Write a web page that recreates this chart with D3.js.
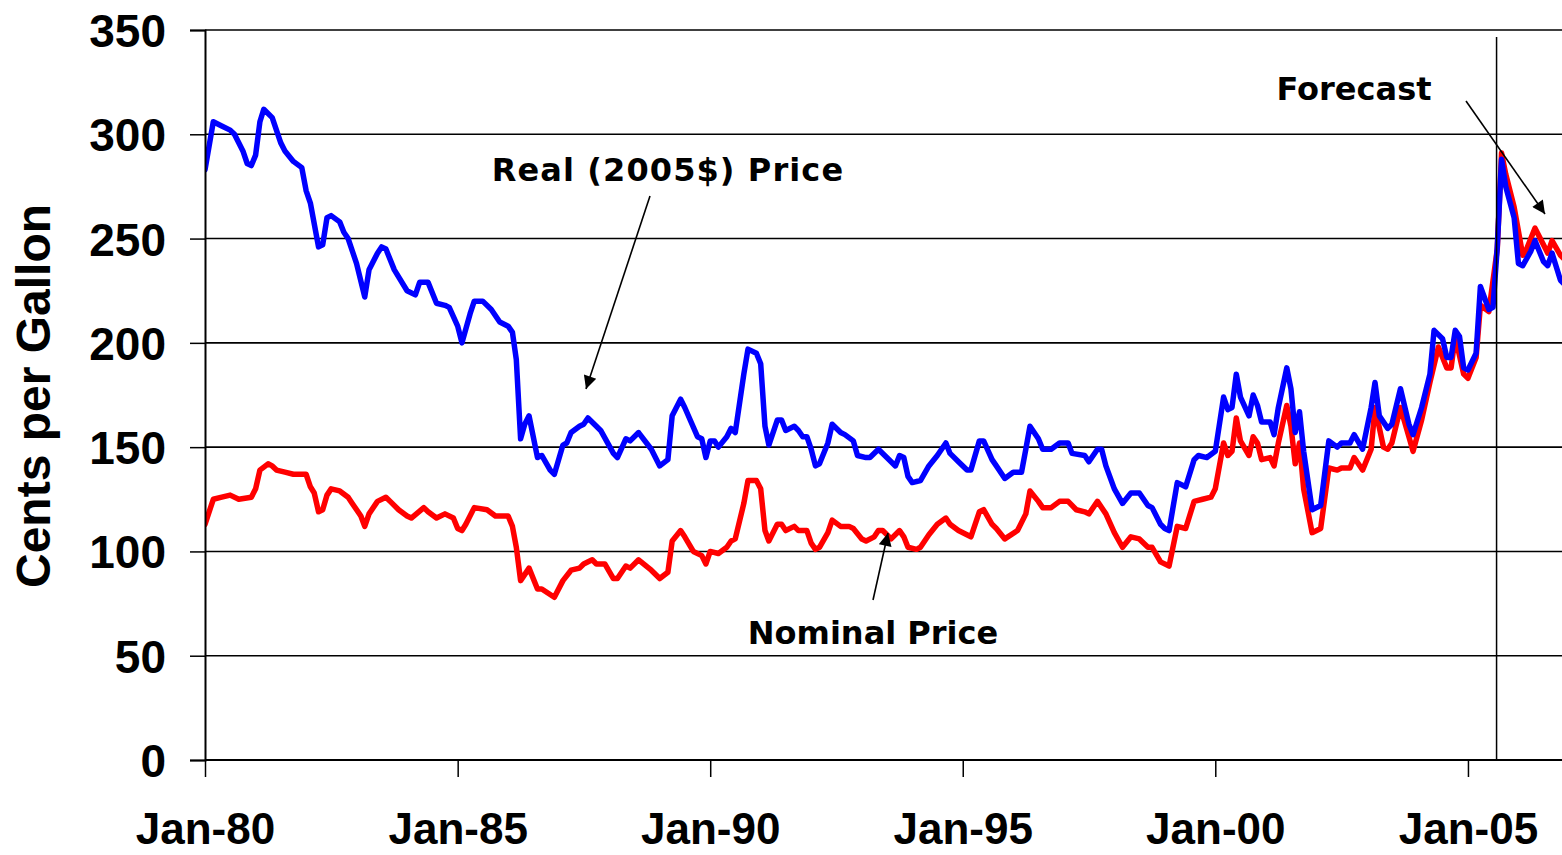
<!DOCTYPE html>
<html>
<head>
<meta charset="utf-8">
<script src="https://cdn.jsdelivr.net/npm/d3@7"></script>
<style>
  body { margin: 0; background: #fff; }
  svg { display: block; }
</style>
</head>
<body>
<svg id="chart"></svg>
<script>
// Months counted from Jan-1980, cents per gallon
const realMonths = [0,2,4,6,7,9,10,11,12,13,14,16,18,19,21,23,24,25,27,28,29,30,32,33,34,36,38,39,41,42,43,45,48,50,51,53,55,57,58,60,61,63,64,66,68,70,72,73,74,75,76,77,79,80,82,83,85,86,87,89,90,91,93,94,97,98,100,101,103,106,108,110,111,113,114,117,118,119,120,121,122,124,125,126,128,129,131,132,133,134,136,137,138,140,141,142,143,144,145,146,148,149,151,152,154,155,157,158,160,162,164,165,166,167,168,170,172,174,176,177,179,181,182,184,185,187,188,190,192,194,195,196,198,199,201,203,205,206,209,210,212,213,214,216,218,220,222,224,225,227,228,229,231,233,235,236,238,240,242,243,244,245,246,248,249,250,251,253,254,255,257,258,259,260,261,263,265,267,269,270,272,273,275,277,278,279,281,282,284,286,287,289,291,292,294,295,296,297,298,299,300,302,303,305,306,307,308,309,311,312,313,315,316,318,319,320,322,323];
const realValues = [283,306,304,302,300,292,286,285,290,306,312,308,296,292,287,284,273,267,246,247,260,261,258,253,250,238,222,235,243,246,245,235,225,223,229,229,219,218,217,208,200,214,220,220,216,210,208,205,192,154,161,165,145,146,139,137,151,152,157,160,161,164,160,158,147,145,154,153,157,149,141,144,165,173,169,155,154,145,153,153,150,155,159,157,185,197,195,190,160,151,163,163,158,160,158,155,155,149,141,142,152,161,157,156,153,146,145,145,149,145,141,146,145,136,133,134,141,146,152,147,143,139,139,153,153,144,141,135,138,138,149,160,154,149,149,152,152,147,146,143,149,149,141,130,123,128,128,122,121,113,111,110,133,131,144,146,145,148,174,168,169,185,174,165,175,170,162,162,156,169,188,178,157,167,148,120,122,153,150,152,152,156,149,169,181,165,159,161,178,161,156,169,185,206,202,193,193,206,203,188,187,195,227,216,217,246,288,275,260,238,237,244,249,239,237,243,230,228];

const nominalMonths = [0,2,4,6,8,11,12,13,15,16,17,19,21,24,25,26,27,28,29,30,32,34,35,37,38,39,41,43,44,46,48,49,52,53,55,57,59,60,61,62,64,67,69,72,73,74,75,77,79,80,83,85,87,89,90,92,93,95,97,98,100,101,103,106,108,110,111,113,114,116,118,119,120,122,124,125,126,128,129,131,132,133,134,136,137,138,140,141,143,144,145,146,148,149,151,153,154,156,157,159,160,161,163,165,166,167,169,170,172,174,176,177,179,182,184,185,187,188,190,193,195,196,198,199,201,203,205,207,209,210,212,214,216,218,220,222,224,225,227,229,231,233,235,237,239,240,242,243,244,245,246,248,249,250,251,253,254,255,257,258,259,260,261,263,265,267,269,270,272,273,275,277,278,280,281,282,284,286,287,289,291,293,295,296,297,299,300,302,303,305,307,308,309,311,313,314,316,318,319,320,322,323];
const nominalValues = [113,125,126,127,125,126,130,139,142,141,139,138,137,137,131,128,119,120,127,130,129,126,123,117,112,118,124,126,124,120,117,116,121,119,116,118,116,111,110,113,121,120,117,117,112,102,86,92,82,82,78,86,91,92,94,96,94,94,87,87,93,92,96,91,87,90,105,110,107,100,98,94,100,99,102,105,106,123,134,134,130,110,105,113,113,110,112,110,110,104,101,102,109,115,112,112,111,106,105,107,110,110,106,110,107,102,101,102,108,113,116,113,110,107,119,120,113,111,106,110,118,129,124,121,121,124,124,120,119,118,124,118,109,102,107,106,102,102,95,93,112,111,124,125,126,130,152,146,148,164,153,146,155,152,144,145,141,152,170,160,142,152,130,109,111,140,139,140,140,145,139,149,169,150,149,152,169,155,148,163,181,198,188,188,203,185,183,193,218,215,245,291,281,265,242,245,255,247,243,249,242,240];

const yTicks = [0, 50, 100, 150, 200, 250, 300, 350];
const forecastMonth = 308;

const width = 1562, height = 855;
const svg = d3.select('#chart').attr('width', width).attr('height', height);

const start = new Date(1980, 0, 1);
const toDate = m => d3.timeMonth.offset(start, m);

const x = d3.scaleTime().domain([start, new Date(2006, 10, 12)]).range([205, 1562]);
const y = d3.scaleLinear().domain([0, 350]).range([760, 30]);

const FONT_AXIS = '"Liberation Sans", Arial, sans-serif';
const FONT_NOTE = '"DejaVu Sans", Verdana, sans-serif';

// Horizontal gridlines
svg.append('g')
  .selectAll('line')
  .data(yTicks.filter(d => d > 0))
  .join('line')
  .attr('x1', x.range()[0]).attr('x2', x.range()[1])
  .attr('y1', d => y(d)).attr('y2', d => y(d))
  .attr('stroke', '#000').attr('stroke-width', 1.6);

// Clip area for the series
svg.append('defs').append('clipPath').attr('id', 'plot-clip')
  .append('rect').attr('x', 205).attr('y', 0).attr('width', 1562 - 205).attr('height', 760);

const line = d3.line().x(d => x(toDate(d[0]))).y(d => y(d[1]));

const nominal = nominalMonths.map((m, i) => [m, nominalValues[i]]);
const real = realMonths.map((m, i) => [m, realValues[i]]);

const series = svg.append('g').attr('clip-path', 'url(#plot-clip)');
series.append('path').datum(nominal)
  .attr('d', line).attr('fill', 'none')
  .attr('stroke', '#ff0000').attr('stroke-width', 5.5)
  .attr('stroke-linejoin', 'round').attr('stroke-linecap', 'round');
series.append('path').datum(real)
  .attr('d', line).attr('fill', 'none')
  .attr('stroke', '#0000ff').attr('stroke-width', 5.5)
  .attr('stroke-linejoin', 'round').attr('stroke-linecap', 'round');

// Forecast divider
svg.append('line')
  .attr('x1', x(toDate(forecastMonth)) - 5).attr('x2', x(toDate(forecastMonth)) - 5)
  .attr('y1', 37).attr('y2', 760)
  .attr('stroke', '#000').attr('stroke-width', 1.5);

// Y axis
const yAxis = svg.append('g')
  .attr('transform', 'translate(205,0)')
  .call(d3.axisLeft(y).tickValues(yTicks).tickSize(15).tickPadding(24));
yAxis.select('.domain').attr('stroke', '#000').attr('stroke-width', 2);
yAxis.selectAll('.tick line').attr('stroke', '#000').attr('stroke-width', 1.5);
yAxis.selectAll('text')
  .attr('fill', '#000').attr('font-family', FONT_AXIS).attr('font-weight', 'bold')
  .attr('font-size', '46px').attr('dy', '0.36em');

// X axis
const xAxis = svg.append('g')
  .attr('transform', 'translate(0,760)')
  .call(d3.axisBottom(x).ticks(d3.timeYear.every(5)).tickFormat(d3.timeFormat('Jan-%y')).tickSize(17).tickPadding(36));
xAxis.select('.domain').attr('stroke', '#000').attr('stroke-width', 2).attr('d', 'M205,0H1562');
xAxis.selectAll('.tick line').attr('stroke', '#000').attr('stroke-width', 1.5);
xAxis.selectAll('text')
  .attr('fill', '#000').attr('font-family', FONT_AXIS).attr('font-weight', 'bold')
  .attr('font-size', '44px');

// Y axis title
svg.append('text')
  .attr('transform', 'translate(50,396) rotate(-90)')
  .attr('text-anchor', 'middle')
  .attr('font-family', FONT_AXIS).attr('font-weight', 'bold').attr('font-size', '48px')
  .text('Cents per Gallon');

// Annotations with arrows
svg.append('defs').append('marker')
  .attr('id', 'arrow').attr('viewBox', '0 0 10 10')
  .attr('refX', 10).attr('refY', 5)
  .attr('markerWidth', 16).attr('markerHeight', 13).attr('markerUnits', 'userSpaceOnUse')
  .attr('orient', 'auto')
  .append('path').attr('d', 'M0,0L10,5L0,10Z').attr('fill', '#000');

const notes = [
  { text: 'Real (2005$) Price', tx: 668, ty: 181, spacing: 1.1, x1: 650, y1: 196, x2: 586, y2: 389 },
  { text: 'Nominal Price', tx: 873, ty: 644, spacing: 0, x1: 873, y1: 600, x2: 888, y2: 533 },
  { text: 'Forecast', tx: 1354, ty: 100, spacing: 0, x1: 1466, y1: 101, x2: 1545, y2: 214 },
];

notes.forEach(n => {
  svg.append('text')
    .attr('x', n.tx).attr('y', n.ty).attr('text-anchor', 'middle')
    .attr('font-family', FONT_NOTE).attr('font-weight', 'bold').attr('font-size', '32px')
    .attr('letter-spacing', n.spacing)
    .text(n.text);
  svg.append('line')
    .attr('x1', n.x1).attr('y1', n.y1).attr('x2', n.x2).attr('y2', n.y2)
    .attr('stroke', '#000').attr('stroke-width', 1.6)
    .attr('marker-end', 'url(#arrow)');
});
</script>
</body>
</html>
